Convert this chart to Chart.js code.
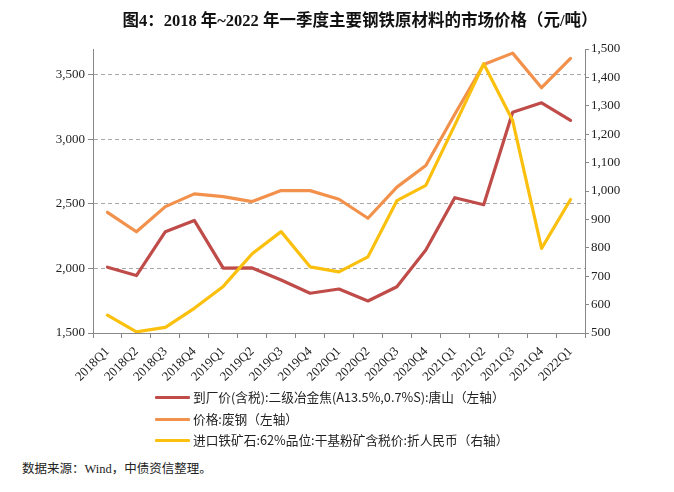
<!DOCTYPE html>
<html>
<head>
<meta charset="utf-8">
<script src="https://cdn.jsdelivr.net/npm/chart.js@4/dist/chart.umd.min.js"></script>
<style>
  html, body { margin: 0; padding: 0; background: #fff; }
  #wrap { position: relative; width: 674px; height: 492px; overflow: hidden; background: #fff; }
  #title { position: absolute; left: 0; width: 720px; top: 7px; text-align: center;
    font-family: "Liberation Serif", "Noto Sans CJK SC", serif; font-weight: bold; font-size: 16.5px; color: #111; white-space: nowrap; }
  #chart { position: absolute; left: 0; top: 0; }
  #legend { position: absolute; left: 155px; top: 386px; font-family: "Noto Sans CJK SC", sans-serif; font-size: 12.7px; color: #222; }
  .row { height: 21.5px; line-height: 21.5px; white-space: nowrap; }
  .sw { display: inline-block; width: 35px; height: 3px; vertical-align: middle; margin-right: 3px; border-radius: 1px; position: relative; top: -1px; }
  #source { position: absolute; left: 22px; top: 458px; font-family: "Liberation Serif", "Noto Sans CJK SC", serif; font-size: 12.5px; color: #222; white-space: nowrap; }
  .cjk { font-family: "Noto Sans CJK SC", sans-serif; }
</style>
</head>
<body>
<div id="wrap">
  <canvas id="chart" width="674" height="392"></canvas>
  <div id="title">图4：2018 年~2022 年一季度主要钢铁原材料的市场价格（元/吨）</div>
  <div id="legend"></div>
  <div id="source"><span class="cjk">数据来源：</span>Wind<span class="cjk">，中债资信整理。</span></div>
</div>
<script>
const categories = ["2018Q1","2018Q2","2018Q3","2018Q4","2019Q1","2019Q2","2019Q3","2019Q4",
  "2020Q1","2020Q2","2020Q3","2020Q4","2021Q1","2021Q2","2021Q3","2021Q4","2022Q1"];
const cokeTangshan = [2010, 1945, 2285, 2372, 2002, 2004, 1911, 1808, 1841, 1748, 1858, 2143, 2548, 2493, 3210, 3283, 3147];
const scrapSteel = [2435, 2284, 2479, 2578, 2557, 2518, 2603, 2603, 2536, 2389, 2630, 2797, 3195, 3580, 3668, 3400, 3627];
const ironOre = [563, 504, 520, 587, 664, 779, 857, 733, 715, 768, 966, 1020, 1232, 1448, 1248, 798, 970];
const leftTicks = [1500, 2000, 2500, 3000, 3500];
const rightTicks = [500, 600, 700, 800, 900, 1000, 1100, 1200, 1300, 1400, 1500];
const seriesNames = [
  "到厂价(含税):二级冶金焦(A13.5%,0.7%S):唐山（左轴）",
  "价格:废钢（左轴）",
  "进口铁矿石:62%品位:干基粉矿含税价:折人民币（右轴）"
];
const seriesColors = ["#BF4C49", "#F2914C", "#FBC00E"];

const legend = document.getElementById('legend');
seriesNames.forEach((n, i) => {
  const r = document.createElement('div');
  r.className = 'row';
  r.innerHTML = '<span class="sw" style="background:' + seriesColors[i] + '"></span>' + n;
  legend.appendChild(r);
});

const fmt = v => v.toLocaleString('en-US');
const tickFont = { family: "Liberation Serif", size: 13 };

new Chart(document.getElementById('chart'), {
  type: 'line',
  data: {
    labels: categories,
    datasets: [
      { label: seriesNames[0], data: cokeTangshan, yAxisID: 'yL', borderColor: seriesColors[0], order: 2 },
      { label: seriesNames[1], data: scrapSteel, yAxisID: 'yL', borderColor: seriesColors[1], order: 1 },
      { label: seriesNames[2], data: ironOre, yAxisID: 'yR', borderColor: seriesColors[2], order: 0 }
    ]
  },
  options: {
    responsive: false,
    devicePixelRatio: 1,
    animation: false,
    layout: { padding: { top: 49, left: 0, right: 0, bottom: 0 } },
    elements: {
      line: { borderWidth: 3.2, tension: 0, borderCapStyle: 'round', borderJoinStyle: 'round' },
      point: { radius: 0, hoverRadius: 0 }
    },
    plugins: { legend: { display: false }, title: { display: false }, tooltip: { enabled: false } },
    scales: {
      x: {
        type: 'category',
        offset: true,
        grid: { offset: true, drawOnChartArea: false, tickLength: 5, tickColor: '#888', tickWidth: 1 },
        border: { color: '#888', width: 1 },
        ticks: { color: '#222', font: { family: "Liberation Serif", size: 13 }, minRotation: 45, maxRotation: 45, padding: 6, autoSkip: false },
        afterFit: s => { s.height = 392 - 333; }
      },
      yL: {
        position: 'left',
        min: 1500, max: 3700,
        afterBuildTicks: s => { s.ticks = leftTicks.map(v => ({ value: v })); },
        ticks: { color: '#222', font: tickFont, padding: 3, callback: v => fmt(v) },
        grid: {
          color: c => (c.tick && c.tick.value === 1500) ? 'rgba(0,0,0,0)' : '#a8a8a8',
          tickColor: '#888', tickLength: 5, lineWidth: 1
        },
        border: { color: '#888', width: 1, dash: [4, 3] },
        afterFit: s => { s.width = 93; }
      },
      yR: {
        position: 'right',
        min: 500, max: 1500,
        afterBuildTicks: s => { s.ticks = rightTicks.map(v => ({ value: v })); },
        ticks: { color: '#222', font: tickFont, padding: 2, callback: v => fmt(v) },
        grid: { drawOnChartArea: false, tickColor: '#888', tickLength: 4 },
        border: { color: '#888', width: 1 },
        afterFit: s => { s.width = 674 - 585; }
      }
    }
  }
});
</script>
</body>
</html>
